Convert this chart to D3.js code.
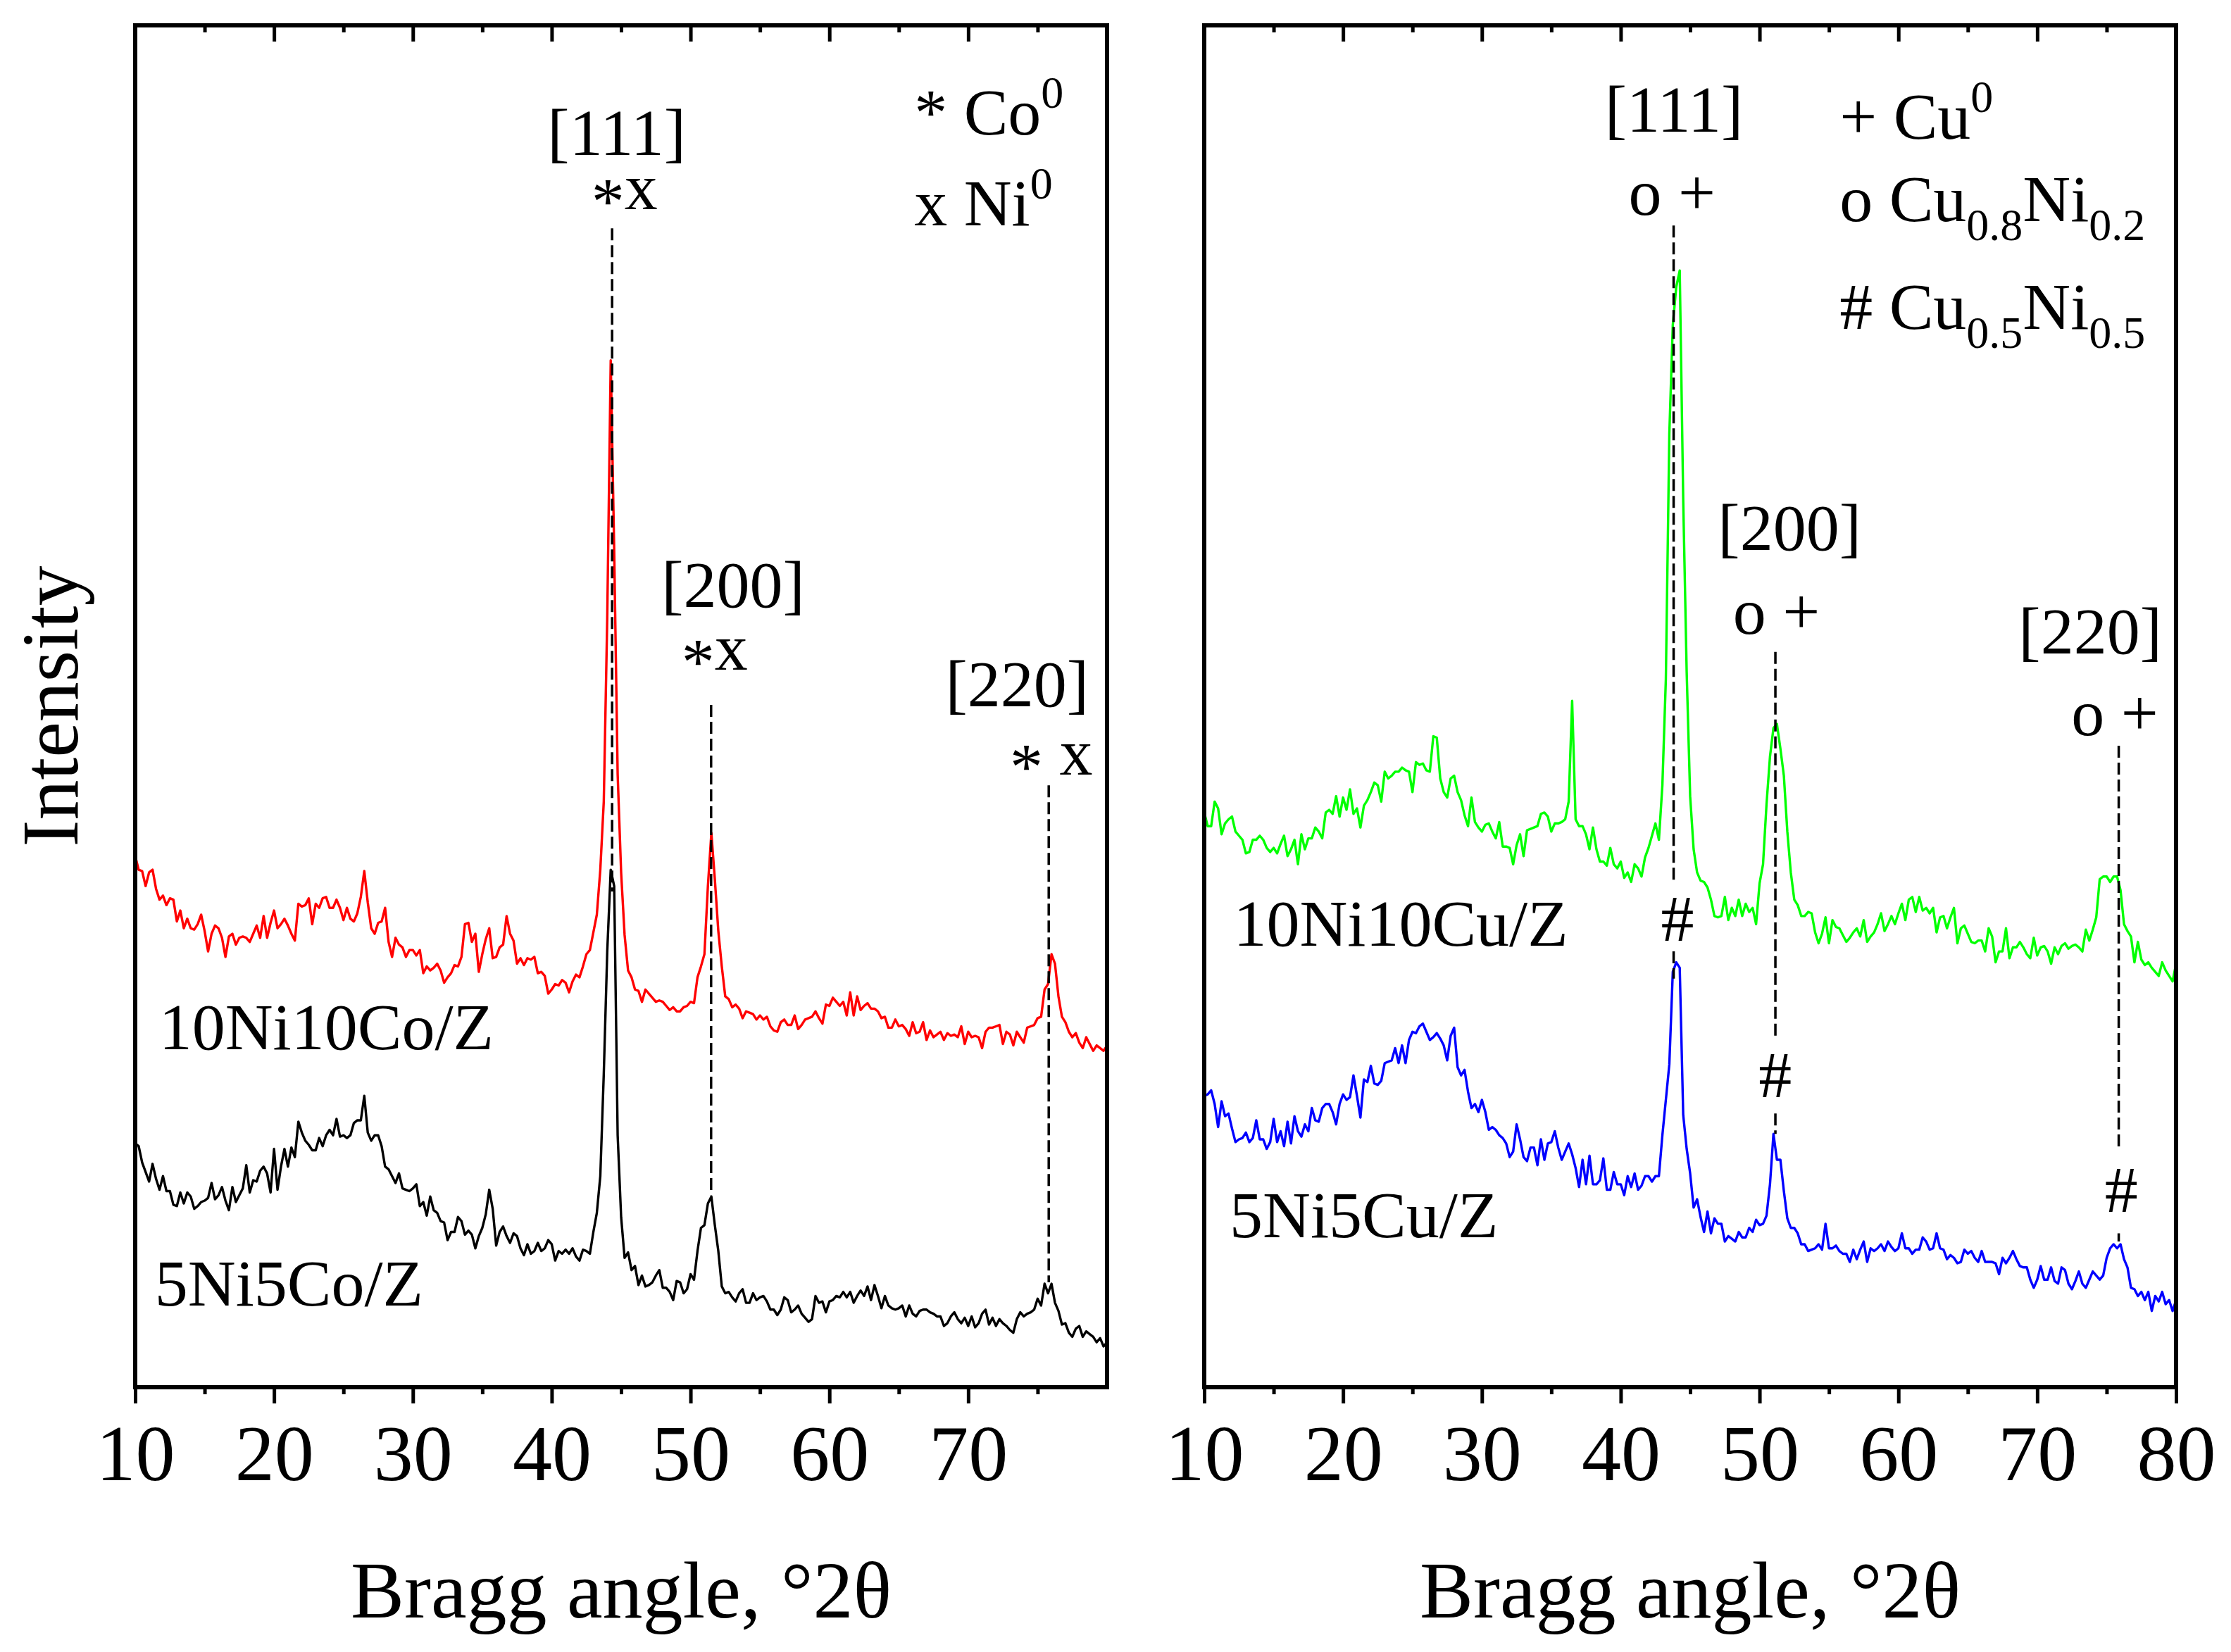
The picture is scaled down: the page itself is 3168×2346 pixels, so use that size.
<!DOCTYPE html>
<html>
<head>
<meta charset="utf-8">
<script src="https://cdn.jsdelivr.net/npm/d3@7"></script>
<style>
  html, body { margin: 0; padding: 0; background: #fff; }
  svg { display: block; }
  text { font-family: "Liberation Serif", "Times New Roman", serif; fill: #000; }
</style>
</head>
<body>
<div id="root"></div>
<script>
const width = 3168;
const height = 2346;

// step scan, 10-80 deg 2theta, 0.25 deg per point
const twoTheta = d3.range(0, 281).map(i => 10 + i * 0.25);

// intensities (a.u.)
const ni10co10 = [
  390,380,379,368,378,380,366,358,361,354,
  359,358,342,350,337,344,337,336,340,347,
  335,320,333,339,337,330,316,331,333,325,
  330,331,330,327,333,339,330,346,330,341,
  350,337,340,344,339,333,328,355,353,354,
  359,340,355,352,359,360,352,352,358,352,
  343,352,344,342,348,360,379,356,337,333,
  341,342,352,327,316,330,325,323,316,321,
  321,317,321,304,309,306,308,311,306,297,
  301,304,310,309,316,340,341,327,333,305,
  318,329,337,315,316,323,325,346,333,328,
  311,315,310,315,314,316,304,305,302,289,
  292,296,295,299,297,290,298,303,301,309,
  318,321,334,347,380,430,565,754,615,450,
  378,332,306,301,292,291,283,292,289,286,
  283,284,283,280,277,279,276,276,279,280,
  283,282,301,309,318,368,407,373,335,309,
  287,285,279,281,278,271,276,275,274,270,
  273,270,272,265,262,261,268,270,266,266,
  273,263,266,270,271,272,276,271,267,281,
  280,286,283,280,283,273,290,273,287,277,
  280,282,278,278,276,271,272,264,264,270,
  265,266,263,258,268,260,261,268,255,262,
  257,259,261,255,260,258,259,257,265,252,
  261,257,258,257,249,261,264,264,265,266,
  252,261,259,251,261,257,253,264,265,266,
  271,272,292,296,318,311,287,272,268,261,
  257,260,253,249,257,252,247,251,249,247,251
];

const ni5co5 = [
  179,177,165,158,151,164,153,145,155,144,
  144,134,133,143,135,143,140,131,133,136,
  137,139,150,138,141,147,137,130,147,136,
  141,146,163,143,152,151,159,162,157,143,
  175,145,162,175,162,176,169,195,187,181,
  178,174,174,183,177,185,189,185,197,184,
  185,183,185,194,196,196,214,187,181,185,
  185,177,162,160,155,150,157,146,145,144,
  146,149,133,136,126,140,130,128,122,121,
  108,114,114,125,122,112,115,112,102,111,
  117,127,145,131,104,114,118,111,106,113,
  111,102,97,105,98,100,106,100,102,108,
  105,93,100,98,101,98,102,96,93,101,
  100,98,114,128,155,230,320,380,368,185,
  125,95,99,86,89,75,82,74,75,77,
  82,86,73,73,70,64,78,77,69,72,
  83,79,100,117,119,135,140,119,100,74,
  69,70,66,63,69,72,62,62,69,64,
  66,67,63,57,57,53,57,66,64,55,
  57,60,54,51,48,50,67,62,63,55,
  63,64,67,66,70,66,70,62,67,71,
  67,74,64,75,67,58,67,60,58,57,
  58,60,52,60,54,52,56,57,57,55,
  54,52,52,45,47,52,55,50,47,51,
  45,52,44,47,54,57,46,51,45,50,
  47,45,42,40,50,55,52,54,55,57,
  65,60,76,69,76,62,56,46,47,40,
  37,43,45,37,41,39,37,33,36,30,33
];

const ni10cu10 = [
  422,412,412,430,425,406,414,417,419,408,
  405,402,392,393,402,402,405,402,396,393,
  396,392,399,405,390,395,402,384,406,395,
  403,403,411,408,403,422,424,421,434,419,
  433,424,439,421,425,411,427,431,437,444,
  442,430,452,447,449,452,452,455,453,452,
  437,459,457,458,453,452,478,477,447,437,
  433,447,449,437,431,420,412,433,415,411,
  408,413,414,408,403,415,397,397,396,384,
  398,406,390,409,410,411,412,421,422,419,
  408,414,414,415,417,430,504,417,412,412,
  406,395,411,395,386,386,383,396,384,381,
  386,374,378,371,384,381,375,389,396,405,
  414,402,442,520,700,780,808,820,652,525,
  434,395,378,372,371,367,358,346,345,346,
  360,343,352,346,358,346,355,349,352,340,
  370,384,428,463,484,487,469,449,408,378,
  358,354,346,346,349,348,334,326,333,345,
  326,343,338,337,332,327,330,334,337,331,
  343,327,331,334,340,348,335,340,346,340,
  348,355,343,358,360,349,360,350,352,348,
  352,334,345,346,337,345,352,326,337,339,
  333,327,326,328,328,320,337,331,312,320,
  320,337,315,323,323,327,323,318,315,330,
  317,323,324,320,311,323,318,324,326,322,
  324,325,323,320,336,328,336,345,373,375,
  375,371,375,375,365,340,335,331,312,327,
  314,310,312,308,305,302,312,306,302,298,311
];

const ni5cu5 = [
  214,215,218,208,191,210,199,201,190,180,
  182,183,187,180,183,196,182,182,175,180,
  197,180,188,177,195,179,199,188,184,193,
  188,205,196,195,205,208,208,202,193,208,
  215,211,213,229,214,198,226,224,236,223,
  222,225,238,239,240,249,238,251,238,255,
  261,260,265,267,261,255,257,260,256,251,
  240,258,264,235,229,233,217,205,208,202,
  211,202,189,191,189,185,183,179,169,173,
  193,182,169,166,176,176,163,182,167,179,
  180,188,176,167,173,179,171,161,147,167,
  149,170,149,149,152,168,145,145,158,149,
  149,141,155,147,157,145,148,155,155,151,
  155,155,185,211,237,305,312,308,200,175,
  157,132,138,125,114,129,113,124,120,120,
  107,111,109,107,114,110,110,117,114,123,
  119,120,126,149,186,167,167,144,124,117,
  117,113,105,105,100,101,102,105,101,120,
  102,102,104,100,98,98,92,101,94,101,
  107,92,102,100,102,105,100,107,103,100,
  102,113,102,102,98,101,101,110,107,101,
  102,113,102,101,94,97,95,91,92,101,
  98,100,95,92,100,92,92,92,91,83,
  95,91,95,100,94,89,88,88,79,73,
  79,89,79,79,88,78,76,88,86,76,
  72,78,85,76,73,79,85,82,79,82,
  95,102,105,102,105,94,88,73,72,67,
  70,64,70,56,67,63,70,61,64,56,64
];

const ticksLeft = [10, 20, 30, 40, 50, 60, 70];
const ticksRight = [10, 20, 30, 40, 50, 60, 70, 80];
const minorTicks = [15, 25, 35, 45, 55, 65, 75];

// peak markers (2theta, intensity span of the dashed line)
const peaksCo = [
  {x: 44.35, y0: 364, y1: 851},
  {x: 51.48, y0: 141, y1: 501},
  {x: 75.8, y0: 77, y1: 442}
];
const peaksCu = [
  {x: 43.81, y0: 372, y1: 853}, {x: 43.81, y0: 300, y1: 320},
  {x: 51.14, y0: 258, y1: 540}, {x: 51.14, y0: 186, y1: 201},
  {x: 75.87, y0: 174, y1: 471}, {x: 75.87, y0: 107, y1: 113}
];

const labelsCo = [
  {x: 44.68, y: 905, parts: [{t: "[111]"}]},
  {x: 45.24, y: 865, parts: [{t: "*", low: true}, {t: "x"}]},
  {x: 53.07, y: 573, parts: [{t: "[200]"}]},
  {x: 51.73, y: 527, parts: [{t: "*", low: true}, {t: "x"}]},
  {x: 73.52, y: 500, parts: [{t: "[220]"}]},
  {x: 75.98, y: 450, parts: [{t: "*", low: true}, {t: "\u00A0x"}]},
  {x: 11.71, y: 248, anchor: "start", parts: [{t: "10Ni10Co/Z"}]},
  {x: 11.41, y: 60, anchor: "start", parts: [{t: "5Ni5Co/Z"}]},
  {x: 66.11, y: 920, anchor: "start", parts: [{t: "* Co"}, {t: "0", sup: true}]},
  {x: 66.11, y: 853, anchor: "start", parts: [{t: "x Ni"}, {t: "0", sup: true}]}
];
const labelsCu = [
  {x: 43.84, y: 922, parts: [{t: "[111]"}]},
  {x: 43.69, y: 861, parts: [{t: "o +"}]},
  {x: 52.16, y: 615, parts: [{t: "[200]"}]},
  {x: 51.22, y: 553, parts: [{t: "o +"}]},
  {x: 73.82, y: 539, parts: [{t: "[220]"}]},
  {x: 75.59, y: 479, parts: [{t: "o +"}]},
  {x: 44.09, y: 328, parts: [{t: "#"}]},
  {x: 51.13, y: 213, parts: [{t: "#"}]},
  {x: 76.06, y: 129, parts: [{t: "#"}]},
  {x: 12.1, y: 324, anchor: "start", parts: [{t: "10Ni10Cu/Z"}]},
  {x: 11.83, y: 110, anchor: "start", parts: [{t: "5Ni5Cu/Z"}]},
  {x: 55.76, y: 917, anchor: "start", parts: [{t: "+ Cu"}, {t: "0", sup: true}]},
  {x: 55.76, y: 856, anchor: "start", parts: [{t: "o Cu"}, {t: "0.8", sub: true}, {t: "Ni"}, {t: "0.2", sub: true}]},
  {x: 55.76, y: 777, anchor: "start", parts: [{t: "# Cu"}, {t: "0.5", sub: true}, {t: "Ni"}, {t: "0.5", sub: true}]}
];

const panels = [
  {left: 192, right: 1572, ticks: ticksLeft, peaks: peaksCo, labels: labelsCo,
   series: [{values: ni10co10, color: "#ff0000"}, {values: ni5co5, color: "#000000"}]},
  {left: 1710, right: 3090, ticks: ticksRight, peaks: peaksCu, labels: labelsCu,
   series: [{values: ni10cu10, color: "#00ff00"}, {values: ni5cu5, color: "#0000ff"}]}
];

const plotTop = 36, plotBottom = 1970;
const labelSize = 94;

const svg = d3.select("#root").append("svg")
  .attr("width", width)
  .attr("height", height);

svg.append("rect").attr("width", width).attr("height", height).attr("fill", "#fff");

const y = d3.scaleLinear().domain([0, 1000]).range([plotBottom, plotTop]);

panels.forEach(p => {
  const x = d3.scaleLinear().domain([10, 80]).range([p.left, p.right]);
  const g = svg.append("g");

  const line = d3.line()
    .x(d => x(d[0]))
    .y(d => y(d[1]));

  p.series.forEach(s => {
    g.append("path")
      .datum(s.values.map((v, i) => [twoTheta[i], v]))
      .attr("d", line)
      .attr("fill", "none")
      .attr("stroke", s.color)
      .attr("stroke-width", 3.4)
      .attr("stroke-linejoin", "round");
  });

  // dashed peak markers
  g.selectAll(".peak")
    .data(p.peaks).enter()
    .append("line")
      .attr("class", "peak")
      .attr("x1", d => x(d.x)).attr("x2", d => x(d.x))
      .attr("y1", d => y(d.y1)).attr("y2", d => y(d.y0))
      .attr("stroke", "#000")
      .attr("stroke-width", 3.5)
      .attr("stroke-dasharray", "17 7");

  // annotations
  p.labels.forEach(l => {
    const t = g.append("text")
      .attr("x", x(l.x))
      .attr("y", y(l.y))
      .attr("text-anchor", l.anchor || "middle")
      .style("font-size", labelSize + "px")
      .style("white-space", "pre");
    let shift = 0;
    l.parts.forEach(part => {
      let target = 0, size = labelSize;
      if (part.sup) { target = -38; size = 64; }
      if (part.sub) { target = 27; size = 64; }
      if (part.low) { target = 20; }
      t.append("tspan")
        .attr("dy", target - shift)
        .style("font-size", size + "px")
        .text(part.t);
      shift = target;
    });
  });

  // bottom axis
  const gb = g.append("g").attr("transform", `translate(0,${plotBottom})`)
    .call(d3.axisBottom(x).tickValues(p.ticks).tickSize(23).tickFormat(d3.format("d")))
    .attr("font-size", null).attr("font-family", null);
  gb.select(".domain").remove();
  gb.selectAll(".tick line").attr("stroke-width", 5);
  gb.selectAll(".tick text").attr("y", 132).attr("dy", null).style("font-size", "112px");

  const gbm = g.append("g").attr("transform", `translate(0,${plotBottom})`)
    .call(d3.axisBottom(x).tickValues(minorTicks).tickSize(10).tickFormat(""));
  gbm.select(".domain").remove();
  gbm.selectAll(".tick line").attr("stroke-width", 5);

  // top axis, ticks pointing in
  const gt = g.append("g").attr("transform", `translate(0,${plotTop})`)
    .call(d3.axisTop(x).tickValues(p.ticks.filter(v => v < 80)).tickSize(-23).tickFormat(""));
  gt.select(".domain").remove();
  gt.selectAll(".tick line").attr("stroke-width", 5);

  const gtm = g.append("g").attr("transform", `translate(0,${plotTop})`)
    .call(d3.axisTop(x).tickValues(minorTicks).tickSize(-10).tickFormat(""));
  gtm.select(".domain").remove();
  gtm.selectAll(".tick line").attr("stroke-width", 5);

  // frame
  g.append("rect")
    .attr("x", p.left).attr("y", plotTop)
    .attr("width", p.right - p.left).attr("height", plotBottom - plotTop)
    .attr("fill", "none")
    .attr("stroke", "#000")
    .attr("stroke-width", 6);

  g.append("text")
    .attr("x", (p.left + p.right) / 2)
    .attr("y", 2297)
    .attr("text-anchor", "middle")
    .style("font-size", "114px")
    .text("Bragg angle, \u00B02\u03B8");
});

svg.append("text")
  .attr("transform", `translate(110,${(plotTop + plotBottom) / 2}) rotate(-90)`)
  .attr("text-anchor", "middle")
  .style("font-size", "114px")
  .text("Intensity");
</script>
</body>
</html>
